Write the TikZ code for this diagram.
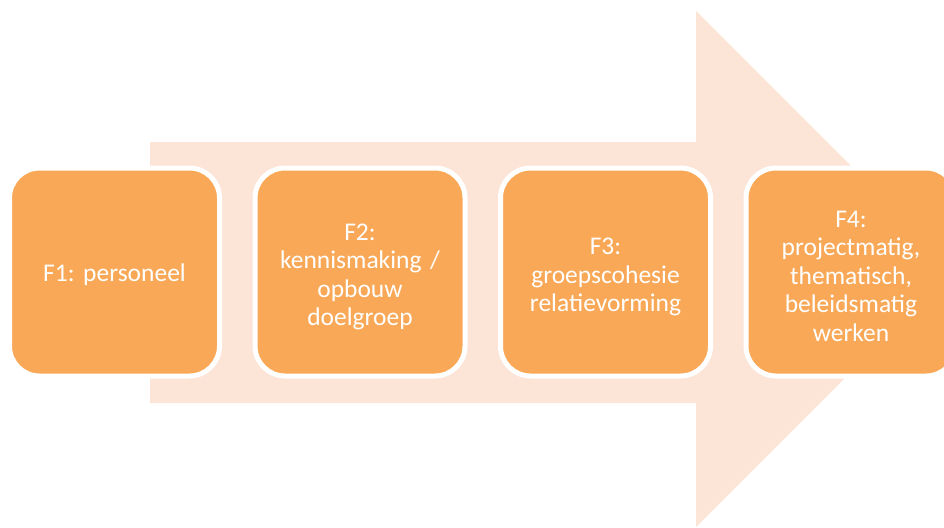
\documentclass[tikz,border=0pt]{standalone}
\usepackage{fontspec}
\setmainfont{Carlito}[WordSpace=0.8]
\frenchspacing
\definecolor{arrowpink}{HTML}{FCE4D6}
\definecolor{boxorange}{HTML}{F8A857}
\begin{document}
\begin{tikzpicture}[x=1pt,y=-1pt,
  phase/.style={rounded corners=30pt, fill=boxorange, draw=white, line width=5pt,
    minimum width=210pt, minimum height=208pt, inner sep=0pt},
  phasetext/.style={text=white, align=center, text width=200pt, inner sep=0pt,
    font=\fontsize{25.5pt}{28.5pt}\selectfont}]
\useasboundingbox (0,0) rectangle (944,527);
\clip (0,0) rectangle (944,527);
\fill[arrowpink] (150,142) -- (696,142) -- (696,11) -- (954,269) -- (696,527) -- (696,403) -- (150,403) -- cycle;
\node[phase] (f1) at (114.5,272) {};
\node[phase] (f2) at (360,272) {};
\node[phase] (f3) at (605.5,272) {};
\node[phase] (f4) at (851,272) {};
\node[phasetext] (t1) at ([yshift=-3pt]f1.center) {F1: personeel};
\node[phasetext] (t2) at ([yshift=-5pt]f2.center) {F2:\\kennismaking /\\opbouw\\doelgroep};
\node[phasetext] (t3) at ([yshift=-5pt]f3.center) {F3:\\groepscohesie\\relatievorming};
\node[phasetext] (t4) at ([yshift=-4pt]f4.center) {F4:\\projectmatig,\\thematisch,\\beleidsmatig\\werken};
\end{tikzpicture}
\end{document}
